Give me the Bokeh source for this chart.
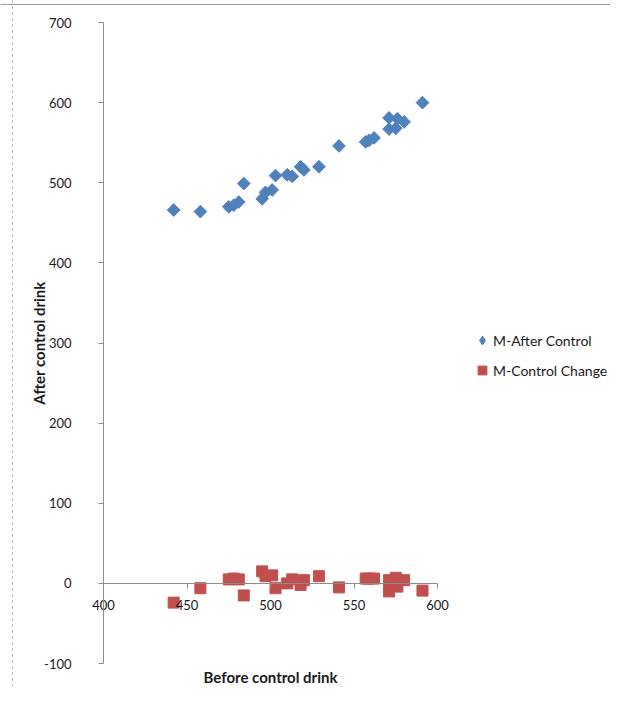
from bokeh.plotting import figure
from bokeh.models import (Legend, LegendItem, SingleIntervalTicker, FixedTicker, Label,
                          ColumnDataSource, NumeralTickFormatter, Span)
from bokeh.embed import file_html
from bokeh.resources import INLINE
import math

# Data
before = [442, 458, 475, 478, 481, 484, 495, 497, 501, 503, 510, 513, 518, 520, 529,
          541, 557, 559, 562, 571, 571, 575, 576, 580, 591]
after_control = [466, 464, 470, 472, 476, 499, 480, 488, 491, 509, 510, 508, 520, 516, 520,
                 546, 551, 553, 556, 581, 567, 568, 580, 576, 600]
control_change = [-24, -6, 5, 6, 5, -15, 15, 9, 10, -6, 0, 5, -2, 4, 9,
                  -5, 6, 6, 6, -10, 4, 7, -4, 4, -9]

series_names = ["M-After Control", "M-Control Change"]
x_title = "Before control drink"
y_title = "After control drink"
x_ticks = [400, 450, 500, 550, 600]

FONT = "Lato"
TXT = "#1a1a1a"
AXC = "#8c8c8c"
BLUE = "#4F81BD"
RED = "#C0504D"

W, H = 610, 686
p = figure(width=W, height=H, output_backend="svg", toolbar_location=None,
           x_range=(338.3, 703.6), y_range=(-128.7, 727.5), min_border=0)
p.grid.visible = False
p.outline_line_color = None
p.background_fill_color = "white"
p.border_fill_color = "white"

# page frame lines of the source document
p.add_layout(Span(location=12, location_units="canvas", dimension="height",
                  line_color="#9a9a9a", line_dash="dotted", line_width=1))
p.add_layout(Span(location=4, location_units="canvas", dimension="width",
                  line_color="#9a9a9a", line_width=1))

src = ColumnDataSource(dict(x=before, a=after_control, c=control_change))
# diamond glyph used for the legend; hidden underneath the rotated squares
r1_leg = p.scatter("x", "a", source=src, marker="diamond", size=10,
                   fill_color=BLUE, line_color=BLUE)
r1 = p.scatter("x", "a", source=src, marker="square", size=9, angle=math.pi / 4,
               fill_color=BLUE, line_color=BLUE)
r2 = p.scatter("x", "c", source=src, marker="square", size=11,
               fill_color=RED, line_color=RED)

# axes
xa = p.xaxis[0]
xa.fixed_location = 0
xa.bounds = (x_ticks[0], x_ticks[-1])
xa.ticker = FixedTicker(ticks=x_ticks)
xa.minor_tick_line_color = None
xa.major_tick_in = 0
xa.major_tick_out = 5
xa.axis_line_color = AXC
xa.major_tick_line_color = AXC
xa.major_label_text_font = FONT
xa.major_label_text_font_size = "13px"
xa.major_label_text_color = TXT
xa.major_label_standoff = 12

ya = p.yaxis[0]
ya.fixed_location = 400
ya.bounds = (-100, 700)
ya.ticker = SingleIntervalTicker(interval=100)
ya.formatter = NumeralTickFormatter(format="0")
ya.minor_tick_line_color = None
ya.major_tick_in = 0
ya.major_tick_out = 5
ya.axis_line_color = AXC
ya.major_tick_line_color = AXC
ya.major_label_text_font = FONT
ya.major_label_text_font_size = "13px"
ya.major_label_text_color = TXT
ya.major_label_standoff = 27
ya.axis_label = y_title
ya.axis_label_text_font = FONT
ya.axis_label_text_font_style = "bold"
ya.axis_label_text_font_size = "15px"
ya.axis_label_text_color = TXT
ya.axis_label_standoff = -7

p.add_layout(Label(x=500, y=-117, text=x_title, text_align="center", text_baseline="middle",
                   text_font=FONT, text_font_style="bold", text_font_size="15px",
                   text_color=TXT))

legend = Legend(items=[LegendItem(label=series_names[0], renderers=[r1_leg]),
                       LegendItem(label=series_names[1], renderers=[r2])],
                location=(471, 305), border_line_color=None, background_fill_alpha=0,
                label_text_font=FONT, label_text_font_size="14px", label_text_color=TXT,
                glyph_width=22, glyph_height=22, label_height=22, spacing=8,
                label_standoff=0, padding=0, margin=0)
p.add_layout(legend, "center")

open("out.html", "w").write(file_html(p, INLINE))
